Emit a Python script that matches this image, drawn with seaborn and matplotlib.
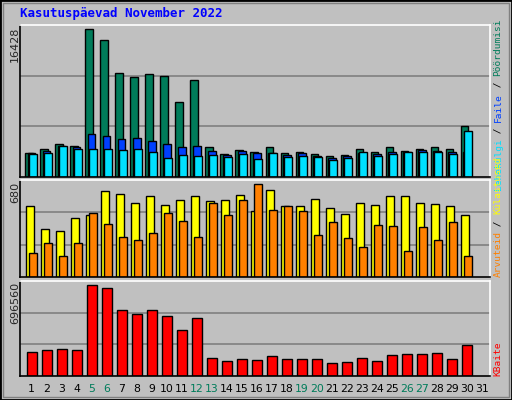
import numpy as np
import pandas as pd
import seaborn as sns
import matplotlib.pyplot as plt
from matplotlib.patches import Rectangle

sns.set_theme(style="white")
plt.rcParams['font.family'] = ['DejaVu Sans Mono', 'DejaVu Sans']

days = list(range(1, 31))
day_labels = [str(d) for d in range(1, 32)]
weekend = [5, 6, 12, 13, 19, 20, 26, 27]

# top panel: hits / files / pages
hits = [2713, 3159, 3717, 3420, 16428, 15202, 11523, 11077, 11411, 11188, 8289, 10742, 3308, 2602, 3048,
        2825, 3308, 2713, 2825, 2602, 2305, 2416, 3159, 2825, 3308, 2936, 3159, 3308, 3159, 5724]
files = [2639, 2936, 3494, 3308, 4832, 4609, 4275, 4386, 4052, 3717, 3382, 3494, 2936, 2490, 2936,
         2713, 2713, 2490, 2713, 2379, 2156, 2305, 2713, 2602, 2825, 2825, 3048, 2936, 2825, 2825]
pages = [2602, 2713, 3494, 3159, 3159, 3159, 3048, 3159, 2825, 2156, 2490, 2379, 2490, 2267, 2602,
         2044, 2713, 2267, 2379, 2267, 1933, 2156, 2825, 2379, 2602, 2825, 2825, 2825, 2602, 5167]
# middle panel: visits / hosts
visits = [518, 349, 334, 430, 452, 628, 606, 540, 592, 525, 562, 592, 555, 562, 599,
          481, 636, 518, 518, 570, 503, 459, 540, 525, 592, 592, 540, 533, 518, 452]
hosts = [172, 246, 150, 246, 466, 385, 290, 268, 319, 466, 408, 290, 540, 452, 562,
         680, 489, 518, 481, 304, 400, 282, 216, 378, 371, 187, 363, 268, 400, 157]
# bottom panel: kilobytes
kbytes = [185600, 200800, 208400, 200800, 696560, 673700, 505900, 475400, 505900, 460100, 353300, 444900,
          139800, 116900, 132200, 124600, 155100, 132200, 132200, 132200, 101700, 109300, 139800, 116900,
          162700, 170300, 170300, 177900, 132200, 239000]

BG = '#c0c0c0'
W, H = 512, 400
fig = plt.figure(figsize=(W / 100, H / 100), dpi=100, facecolor=BG)


def px_axes(x0, y0, x1, y1):
    return fig.add_axes([x0 / W, 1 - y1 / H, (x1 - x0) / W, (y1 - y0) / H])


def style(ax, top):
    ax.set_facecolor(BG)
    ax.set_xlim(0.23, 31.55)
    ax.set_ylim(0, top)
    ax.set_yticks([top / 3, 2 * top / 3])
    ax.set_yticklabels([])
    ax.grid(axis='y', color='#808080', lw=1.2)
    ax.grid(axis='x', visible=False)
    ax.set_axisbelow(True)
    ax.tick_params(length=0)
    ax.set_xlabel('')
    ax.set_ylabel('')
    for s, c in [('left', 'black'), ('bottom', 'black'), ('top', 'white'), ('right', 'white')]:
        ax.spines[s].set_color(c)
        ax.spines[s].set_linewidth(1.2)


def bars(ax, values, offset, width, color):
    df = pd.DataFrame({'day': np.array(days) + offset, 'v': values})
    sns.barplot(data=df, x='day', y='v', native_scale=True, width=width, color=color,
                edgecolor='black', linewidth=1, saturation=1, ax=ax)


ax1 = px_axes(20, 25, 490, 177)
bars(ax1, hits, -0.15, 0.52, '#007c5a')
bars(ax1, files, 0.0, 0.52, '#0040ff')
bars(ax1, pages, 0.1, 0.5, '#00e0ff')
style(ax1, 16428 * 152 / 147.7)
ax1.set_xticks([])

ax2 = px_axes(20, 180, 490, 277)
bars(ax2, visits, -0.12, 0.53, '#ffff00')
bars(ax2, hosts, 0.1, 0.5, '#ff8000')
style(ax2, 680 * 96.3 / 92.3)
ax2.set_xticks([])

ax3 = px_axes(20, 281, 490, 376)
bars(ax3, kbytes, 0.0, 0.67, '#ff0000')
style(ax3, 696560 * 95 / 91.3)
ax3.set_xticks(range(1, 32))
ax3.set_xticklabels(day_labels, fontsize=7.8, family='DejaVu Sans')
for lab, d in zip(ax3.get_xticklabels(), range(1, 32)):
    lab.set_color('#007c5a' if d in weekend else 'black')
ax3.tick_params(axis='x', pad=6)

fig.text(20 / W, 1 - 13 / H, 'Kasutuspäevad November 2022', color='#0000ff', fontsize=9,
         fontweight='bold', va='center', ha='left')

for txt, ytop in [('16428', 27), ('680', 182), ('696560', 282)]:
    fig.text(15 / W, 1 - ytop / H, txt, rotation=90, fontsize=8, va='top', ha='center',
             family='DejaVu Sans')

FS = 6.8
CH = 0.602 * FS * 100 / 72


def right_label(parts, ybottom):
    y = ybottom
    for txt, col in parts:
        fig.text(498 / W, 1 - y / H, txt, rotation=90, fontsize=FS, color=col,
                 va='bottom', ha='center')
        y -= len(txt) * CH


right_label([('Lehekülgi', '#00e0ff'), (' / ', 'black'), ('Faile', '#0040ff'),
             (' / ', 'black'), ('Pöördumisi', '#007c5a')], 190)
right_label([('Arvuteid', '#ff8000'), (' / ', 'black'), ('Külastused', '#ffff00')], 277)
right_label([('KBaite', '#ff0000')], 376)

fig.patches.append(Rectangle((0, 0), 1, 1, transform=fig.transFigure, fill=False,
                             edgecolor='black', lw=2))
fig.patches.append(Rectangle((3 / W, 3 / H), 1 - 6 / W, 1 - 6 / H, transform=fig.transFigure,
                             fill=False, edgecolor='#808080', lw=1))

fig.savefig('out.png', dpi=100, facecolor=BG)
